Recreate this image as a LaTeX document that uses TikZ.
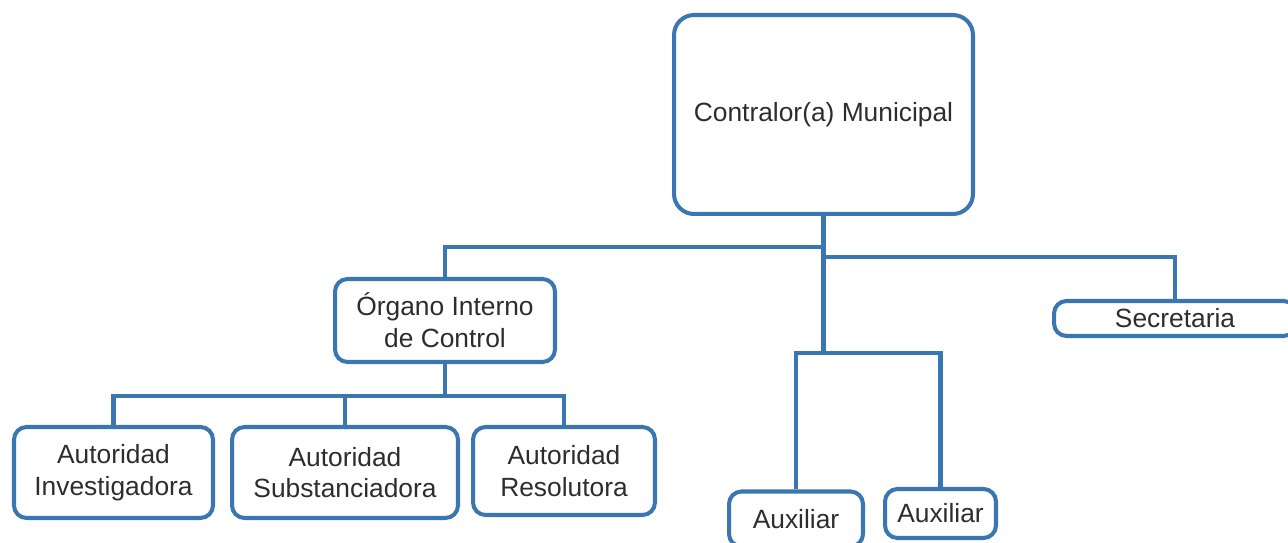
\documentclass[tikz,border=0pt]{standalone}
\usepackage{fontspec}
\setmainfont{Liberation Sans}
\usetikzlibrary{positioning,calc}
\definecolor{orgblue}{RGB}{58,118,178}
\definecolor{orgtext}{RGB}{45,45,45}
\tikzset{
  bigbox/.style={rectangle,draw=orgblue,line width=2.3pt,rounded corners=0.4cm,inner sep=0pt,
    text=orgtext,align=center,font=\fontsize{15}{18}\selectfont},
  smallbox/.style={bigbox,rounded corners=0.25cm},
  link/.style={draw=orgblue,line width=2.3pt}
}

\begin{document}
\begin{tikzpicture}[x=0.02cm,y=-0.02cm]
            \useasboundingbox (0,0) rectangle (1288,543);
            \node[bigbox,minimum width=5.98cm,minimum height=3.98cm] (contralor) at (823.5,114.5) {Contralor(a) Municipal};
            \node[smallbox,minimum width=4.4cm,minimum height=1.66cm] (organo) at (445,320.5) {Órgano Interno\\de Control};
            \node[smallbox,minimum width=4.84cm,minimum height=0.7cm] (secre) at (1175,318.5) {Secretaria};
            \node[smallbox,minimum width=3.98cm,minimum height=1.82cm] (inv) at (113.5,472.5) {Autoridad\\Investigadora};
            \node[smallbox,minimum width=4.52cm,minimum height=1.82cm] (sub) at (345,472.5) {Autoridad\\Substanciadora};
            \node[smallbox,minimum width=3.64cm,minimum height=1.76cm] (res) at (564,471) {Autoridad\\Resolutora};
            \node[smallbox,minimum width=2.68cm,minimum height=1.1cm] (aux1) at (796,519) {Auxiliar};
            \node[smallbox,minimum width=2.22cm,minimum height=0.98cm] (aux2) at (940.5,513.5) {Auxiliar};
            \coordinate (lbar) at (823.5,247);
            \coordinate (rbar) at (823.5,257);
            \coordinate (auxbar) at (823.5,353);
            \coordinate (obar) at (445,396);
            \draw[link] (contralor.south) -- (auxbar);
            \draw[link] (organo.north) |- (lbar);
            \draw[link,line width=1.8pt] (rbar) -| (secre.north);
            \draw[link] (aux1.north) |- (auxbar) -| (aux2.north);
            \draw[link] (organo.south) -- (obar);
            \draw[link] (inv.north) |- (obar) -| (res.north);
            \draw[link] (sub.north) -- (sub.north |- obar);
        \end{tikzpicture}
\end{document}
